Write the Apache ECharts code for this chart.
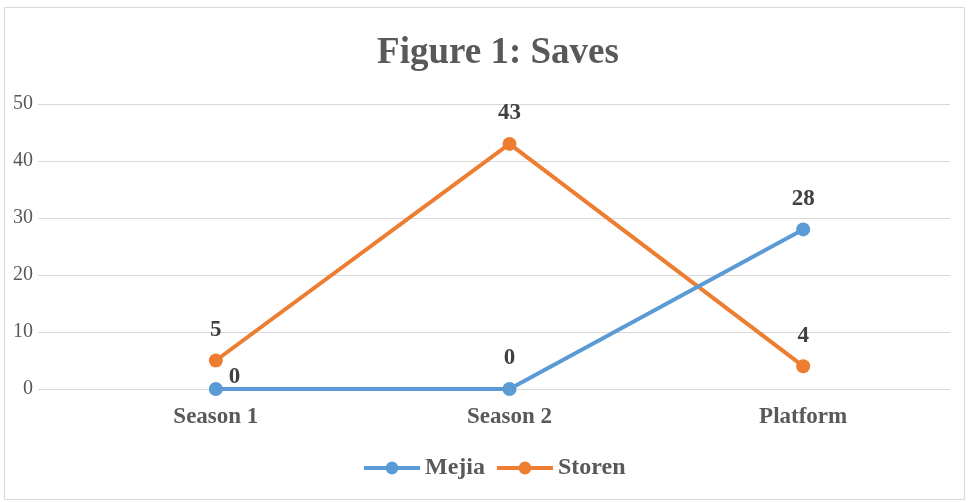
<!DOCTYPE html>
<html>
<head>
<meta charset="utf-8">
<script src="https://cdn.jsdelivr.net/npm/echarts@6/dist/echarts.min.js"></script>
<style>
  html, body { margin: 0; padding: 0; background: #fff; }
  #chart { width: 969px; height: 502px; }
</style>
</head>
<body>
<div id="chart"></div>
<script>
const categories = ['Season 1', 'Season 2', 'Platform']
const mejia = [0, 0, 28]
const storen = [5, 43, 4]
const yTicks = [0, 10, 20, 30, 40, 50]

const chart = echarts.init(document.getElementById('chart'))
const font = '"Liberation Serif", "Times New Roman", serif'
const gridTop = 104
const gridBottom = 502 - 389

// Mejia's first label sits beside the point in the original
const mejiaData = mejia.map((v, i) => i === 0
  ? { value: v, label: { position: 'right', offset: [-6, -12] } }
  : v)

const dataLabel = { show: true, position: 'top', distance: 12, fontFamily: font, fontSize: 23, fontWeight: 'bold', color: '#404040' }

chart.setOption({
  animation: false,
  textStyle: { fontFamily: font },
  title: {
    text: 'Figure 1: Saves',
    left: 493,
    textAlign: 'center',
    top: 30,
    textStyle: { fontFamily: font, fontSize: 37, fontWeight: 'bold', color: '#595959' },
  },
  graphic: [{
    type: 'rect',
    shape: { x: 4.5, y: 7.5, width: 960, height: 492 },
    style: { fill: 'none', stroke: '#d9d9d9', lineWidth: 1 },
    silent: true,
  }],
  legend: {
    bottom: 17,
    left: 357,
    itemWidth: 56,
    itemHeight: 16,
    itemGap: 10,
    lineStyle: { width: 4 },
    textStyle: { fontFamily: font, fontSize: 24, fontWeight: 'bold', color: '#595959' },
    data: ['Mejia', 'Storen'],
  },
  grid: [
    { left: 69, right: 19, top: gridTop, bottom: gridBottom },
    { left: 38, right: 19, top: gridTop, bottom: gridBottom },
  ],
  xAxis: [
    {
      type: 'category',
      gridIndex: 0,
      data: categories,
      axisLine: { show: false },
      axisTick: { show: false },
      axisLabel: { fontFamily: font, fontSize: 23, fontWeight: 'bold', color: '#595959', margin: 17 },
    },
    { type: 'value', gridIndex: 1, show: false },
  ],
  yAxis: [
    { type: 'value', gridIndex: 0, min: 0, max: 50, interval: 10, show: false },
    {
      type: 'value',
      gridIndex: 1,
      min: yTicks[0],
      max: yTicks[yTicks.length - 1],
      interval: 10,
      axisLine: { show: false },
      axisTick: { show: false },
      axisLabel: { fontFamily: font, fontSize: 20, color: '#595959', margin: 5 },
      splitLine: { lineStyle: { color: '#d9d9d9', width: 1 } },
    },
  ],
  series: [
    {
      name: 'Mejia',
      type: 'line',
      xAxisIndex: 0,
      yAxisIndex: 0,
      data: mejiaData,
      color: '#5B9BD5',
      symbol: 'circle',
      symbolSize: 14,
      lineStyle: { width: 4 },
      label: dataLabel,
      z: 3,
    },
    {
      name: 'Storen',
      type: 'line',
      xAxisIndex: 0,
      yAxisIndex: 0,
      data: storen,
      color: '#ED7D31',
      symbol: 'circle',
      symbolSize: 14,
      lineStyle: { width: 4 },
      label: dataLabel,
      z: 2,
    },
  ],
})
</script>
</body>
</html>
